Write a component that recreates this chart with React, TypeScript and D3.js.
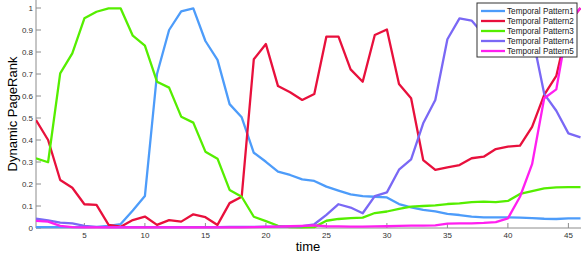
import React from "react";
import * as d3 from "d3";

const times: number[] = d3.range(1, 47);

const pattern1: number[] = [0.004, 0.004, 0.004, 0.004, 0.004, 0.005, 0.01, 0.018, 0.08, 0.145, 0.70, 0.90, 0.985, 0.998, 0.85, 0.764, 0.563, 0.503, 0.342, 0.301, 0.256, 0.241, 0.221, 0.214, 0.188, 0.17, 0.153, 0.145, 0.142, 0.139, 0.109, 0.094, 0.082, 0.076, 0.064, 0.059, 0.052, 0.048, 0.048, 0.048, 0.047, 0.045, 0.042, 0.041, 0.044, 0.044];
const pattern2: number[] = [0.491, 0.40, 0.218, 0.183, 0.108, 0.105, 0.014, 0.006, 0.036, 0.052, 0.014, 0.036, 0.029, 0.062, 0.049, 0.014, 0.113, 0.142, 0.767, 0.836, 0.645, 0.617, 0.582, 0.609, 0.87, 0.87, 0.721, 0.665, 0.877, 0.902, 0.655, 0.59, 0.309, 0.264, 0.276, 0.286, 0.317, 0.324, 0.359, 0.37, 0.374, 0.46, 0.605, 0.691, 0.93, 1.0];
const pattern3: number[] = [0.317, 0.299, 0.703, 0.794, 0.953, 0.983, 0.998, 0.998, 0.874, 0.829, 0.665, 0.638, 0.506, 0.479, 0.347, 0.315, 0.173, 0.142, 0.051, 0.031, 0.01, 0.004, 0.003, 0.004, 0.033, 0.041, 0.045, 0.047, 0.068, 0.075, 0.087, 0.097, 0.1, 0.103, 0.109, 0.112, 0.118, 0.12, 0.118, 0.123, 0.155, 0.168, 0.18, 0.185, 0.186, 0.186];
const pattern4: number[] = [0.042, 0.035, 0.024, 0.021, 0.01, 0.005, 0.004, 0.004, 0.004, 0.004, 0.004, 0.004, 0.004, 0.004, 0.004, 0.004, 0.005, 0.005, 0.005, 0.006, 0.006, 0.007, 0.008, 0.017, 0.06, 0.108, 0.093, 0.067, 0.145, 0.162, 0.265, 0.312, 0.476, 0.582, 0.858, 0.953, 0.943, 0.88, 0.87, 0.87, 0.88, 0.88, 0.61, 0.533, 0.43, 0.412];
const pattern5: number[] = [0.032, 0.029, 0.01, 0.004, 0.003, 0.003, 0.003, 0.003, 0.003, 0.003, 0.003, 0.003, 0.003, 0.003, 0.003, 0.003, 0.003, 0.003, 0.004, 0.005, 0.006, 0.008, 0.01, 0.012, 0.008, 0.007, 0.006, 0.006, 0.007, 0.008, 0.01, 0.011, 0.011, 0.012, 0.02, 0.021, 0.021, 0.023, 0.027, 0.044, 0.142, 0.29, 0.59, 0.63, 0.94, 1.0];

const seriesNames: string[] = ["Temporal Pattern1", "Temporal Pattern2", "Temporal Pattern3", "Temporal Pattern4", "Temporal Pattern5"];
const seriesColors: string[] = ["#4d9cfa", "#e8103c", "#55ee00", "#7a68f5", "#ff1ff0"];
const xTicks: number[] = [5, 10, 15, 20, 25, 30, 35, 40, 45];
const yTicks: number[] = [0, 0.1, 0.2, 0.3, 0.4, 0.5, 0.6, 0.7, 0.8, 0.9, 1];

const W = 581;
const H = 259;
const FONT = "'Liberation Sans', Arial, Helvetica, sans-serif";

export default function App() {
  const x = d3.scaleLinear().domain([1, 46]).range([36, 580.5]);
  const y = d3.scaleLinear().domain([0, 1]).range([228, 8]);
  const all = [pattern1, pattern2, pattern3, pattern4, pattern5];
  const line = d3
    .line<number>()
    .x((_, i) => x(times[i]))
    .y((d) => y(d));

  const legX = 477;
  const legY = 3;
  const legW = 100;
  const legH = 54;

  return (
    <svg
      width={W}
      height={H}
      style={{ position: "absolute", left: 0, top: 0, background: "#fff" }}
      fontFamily={FONT}
    >
      <rect x={0} y={0} width={W} height={H} fill="#fff" />
      <defs>
        <clipPath id="plot">
          <rect x={36} y={0} width={546} height={229} />
        </clipPath>
      </defs>
      <line x1={36} y1={0} x2={36} y2={228} stroke="#8c8c8c" strokeWidth={1} />
      <line x1={36} y1={228} x2={581} y2={228} stroke="#8c8c8c" strokeWidth={1} />
      {yTicks.map((t) => (
        <g key={"y" + t}>
          <line x1={36} x2={41} y1={y(t)} y2={y(t)} stroke="#8c8c8c" />
          <text x={33} y={y(t) + 2.8} fontSize={8} fill="#333" textAnchor="end">
            {String(t)}
          </text>
        </g>
      ))}
      {xTicks.map((t) => (
        <g key={"x" + t}>
          <line x1={x(t)} x2={x(t)} y1={228} y2={223} stroke="#8c8c8c" />
          <text x={x(t)} y={238} fontSize={8} fill="#333" textAnchor="middle">
            {String(t)}
          </text>
        </g>
      ))}
      <g clipPath="url(#plot)">
        {all.map((s, i) => (
          <path
            key={i}
            d={line(s) || ""}
            fill="none"
            stroke={seriesColors[i]}
            strokeWidth={2.3}
            strokeLinejoin="round"
          />
        ))}
      </g>
      <text x={308} y={251} fontSize={13} textAnchor="middle" fill="#000">
        time
      </text>
      <text
        transform="translate(17,114) rotate(-90)"
        fontSize={13}
        textAnchor="middle"
        fill="#000"
      >
        Dynamic PageRank
      </text>
      <rect x={legX} y={legY} width={legW} height={legH} fill="#fff" stroke="#333" strokeWidth={1} />
      {seriesNames.map((n, i) => (
        <g key={n}>
          <line
            x1={481}
            x2={505}
            y1={legY + 8 + i * 10}
            y2={legY + 8 + i * 10}
            stroke={seriesColors[i]}
            strokeWidth={2.3}
          />
          <text x={507} y={legY + 8 + i * 10 + 3} fontSize={8.2} fill="#222">
            {n}
          </text>
        </g>
      ))}
    </svg>
  );
}
